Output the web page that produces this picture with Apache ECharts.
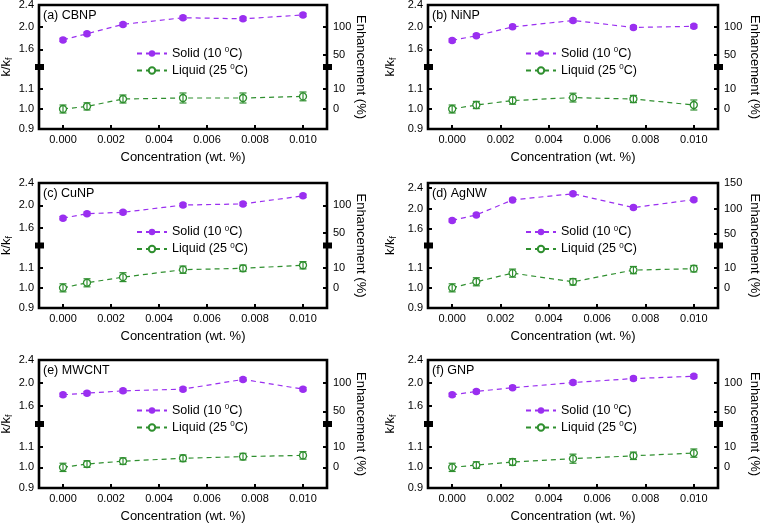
<!DOCTYPE html>
<html><head><meta charset="utf-8">
<script src="https://cdn.jsdelivr.net/npm/echarts@6/dist/echarts.min.js"></script>
<style>html,body{margin:0;padding:0;background:#fff}#c{width:760px;height:526px}</style>
</head><body><div id="c"></div>
<script>
// ---------- data ----------
const concentrations = [0, 0.001, 0.0025, 0.005, 0.0075, 0.010];
const xTicks = [0, 0.002, 0.004, 0.006, 0.008, 0.010];
const panelLabels = ['(a) CBNP', '(b) NiNP', '(c) CuNP', '(d) AgNW', '(e) MWCNT', '(f) GNP'];
const upperTicks = [1.6, 2.0, 2.4];
const lowerTicks = [0.9, 1.0, 1.1];
const enhUpperTicks = [50, 100];
const enhUpperTicksD = [50, 100, 150];
const enhLowerTicks = [-10, 0, 10];

const solidCBNP  = [1.77, 1.88, 2.05, 2.17, 2.15, 2.22];
const liquidCBNP = [1.000, 1.013, 1.050, 1.055, 1.055, 1.063];
const errCBNP    = [0.020, 0.018, 0.020, 0.025, 0.025, 0.022];

const solidNiNP  = [1.76, 1.845, 2.005, 2.12, 1.995, 2.015];
const liquidNiNP = [1.000, 1.020, 1.042, 1.057, 1.050, 1.020];
const errNiNP    = [0.020, 0.018, 0.018, 0.022, 0.018, 0.025];

const solidCuNP  = [1.77, 1.85, 1.875, 2.005, 2.025, 2.17];
const liquidCuNP = [1.000, 1.025, 1.053, 1.090, 1.097, 1.112];
const errCuNP    = [0.020, 0.020, 0.022, 0.018, 0.016, 0.018];

const solidAgNW  = [1.77, 1.877, 2.17, 2.29, 2.02, 2.175];
const liquidAgNW = [1.000, 1.030, 1.073, 1.030, 1.088, 1.095];
const errAgNW    = [0.020, 0.020, 0.020, 0.016, 0.018, 0.016];

const solidMWCNT  = [1.79, 1.82, 1.86, 1.89, 2.06, 1.89];
const liquidMWCNT = [1.000, 1.016, 1.030, 1.044, 1.052, 1.058];
const errMWCNT    = [0.020, 0.016, 0.016, 0.016, 0.016, 0.018];

const solidGNP  = [1.79, 1.85, 1.915, 2.005, 2.075, 2.115];
const liquidGNP = [1.000, 1.011, 1.026, 1.042, 1.056, 1.069];
const errGNP    = [0.020, 0.016, 0.016, 0.022, 0.018, 0.020];

const solidErr = [0.03, 0.03, 0.03, 0.03, 0.03, 0.03];

// ---------- layout / style ----------
const PURPLE = '#9a2ff0';
const GREEN = '#2f8f2f';
const FONT = 'Liberation Sans, Arial, sans-serif';
const colLeft = [39, 428], colRight = [327, 718];
const rowTop = [5, 183, 360], rowBottom = [129, 308, 488];
const kNameGap = [25, 30], eNameGap = [27, 30];

const panels = [
  {label: panelLabels[0], solid: solidCBNP,  liquid: liquidCBNP,  err: errCBNP,  upperMax: 2.4, enh: enhUpperTicks},
  {label: panelLabels[1], solid: solidNiNP,  liquid: liquidNiNP,  err: errNiNP,  upperMax: 2.4, enh: enhUpperTicks},
  {label: panelLabels[2], solid: solidCuNP,  liquid: liquidCuNP,  err: errCuNP,  upperMax: 2.4, enh: enhUpperTicks},
  {label: panelLabels[3], solid: solidAgNW,  liquid: liquidAgNW,  err: errAgNW,  upperMax: 2.5, enh: enhUpperTicksD},
  {label: panelLabels[4], solid: solidMWCNT, liquid: liquidMWCNT, err: errMWCNT, upperMax: 2.4, enh: enhUpperTicks},
  {label: panelLabels[5], solid: solidGNP,   liquid: liquidGNP,   err: errGNP,   upperMax: 2.4, enh: enhUpperTicks}
];
const UPPER_MIN = 1.28, LOWER_MIN = 0.9, LOWER_MAX = 1.21;

function errRenderer(color, cap) {
  return function (params, api) {
    const x = api.value(0), lo = api.value(1), hi = api.value(2);
    const p1 = api.coord([x, hi]), p2 = api.coord([x, lo]);
    const st = {stroke: color, lineWidth: 1.2};
    return {type: 'group', children: [
      {type: 'line', shape: {x1: p1[0], y1: p1[1], x2: p2[0], y2: p2[1]}, style: st},
      {type: 'line', shape: {x1: p1[0] - cap, y1: p1[1], x2: p1[0] + cap, y2: p1[1]}, style: st},
      {type: 'line', shape: {x1: p2[0] - cap, y1: p2[1], x2: p2[0] + cap, y2: p2[1]}, style: st}
    ]};
  };
}

const grid = [], xAxis = [], yAxis = [], series = [], title = [], legend = [], graphic = [];
const tickStyle = {color: '#000', width: 2};
const labelStyle = {fontSize: 11, color: '#000', fontFamily: FONT};
const noLine = {show: false, onZero: false};

panels.forEach((p, i) => {
  const col = i % 2, row = Math.floor(i / 2);
  const L = colLeft[col], R = colRight[col], T = rowTop[row], B = rowBottom[row];
  const W = R - L, H = B - T, hu = H / 2, brk = T + hu;
  const g0 = grid.length, x0 = xAxis.length, y0 = yAxis.length;
  grid.push({left: L, top: T, width: W, height: H, show: true, borderColor: '#000', borderWidth: 2.6, backgroundColor: 'transparent', outerBoundsMode: 'none'});
  grid.push({left: L, top: T, width: W, height: hu, outerBoundsMode: 'none'});
  grid.push({left: L, top: brk, width: W, height: H - hu, outerBoundsMode: 'none'});

  xAxis.push({gridIndex: g0, type: 'value', show: false, min: -0.001, max: 0.011, axisLine: noLine});
  xAxis.push({gridIndex: g0 + 1, type: 'value', show: false, min: -0.001, max: 0.011, axisLine: noLine});
  xAxis.push({gridIndex: g0 + 2, type: 'value', position: 'bottom', min: -0.001, max: 0.011,
    name: 'Concentration (wt. %)', nameLocation: 'middle', nameGap: 22,
    nameTextStyle: {fontSize: 13, color: '#000', fontFamily: FONT},
    axisLine: noLine, splitLine: {show: false},
    axisTick: {show: true, inside: true, length: 4, lineStyle: tickStyle, customValues: xTicks},
    axisLabel: {customValues: xTicks, formatter: v => v.toFixed(3), margin: 5, ...labelStyle}});

  const blank = {axisLine: noLine, axisTick: {show: false}, axisLabel: {show: false}, splitLine: {show: false}};
  // frame axes carrying names
  yAxis.push({gridIndex: g0, type: 'value', position: 'left', min: 0, max: 1, ...blank,
    name: '{a|k/k}{s|f}', nameLocation: 'middle', nameRotate: 90, nameGap: kNameGap[col],
    nameTextStyle: {color: '#000', fontFamily: FONT, rich: {a: {fontSize: 13, color: '#000', fontFamily: FONT}, s: {fontSize: 9, color: '#000', fontFamily: FONT, padding: [6, 0, 0, 0]}}}});
  yAxis.push({gridIndex: g0, type: 'value', position: 'right', min: 0, max: 1, ...blank,
    name: 'Enhancement (%)', nameLocation: 'middle', nameRotate: -90, nameGap: eNameGap[col],
    nameTextStyle: {fontSize: 13, color: '#000', fontFamily: FONT}});
  // upper section
  yAxis.push({gridIndex: g0 + 1, type: 'value', position: 'left', min: UPPER_MIN, max: p.upperMax,
    axisLine: noLine, splitLine: {show: false},
    axisTick: {show: true, inside: true, length: 4, lineStyle: tickStyle, customValues: upperTicks},
    axisLabel: {customValues: upperTicks, formatter: v => v.toFixed(1), margin: 5, ...labelStyle}});
  yAxis.push({gridIndex: g0 + 1, type: 'value', position: 'right', min: (UPPER_MIN - 1) * 100, max: (p.upperMax - 1) * 100,
    axisLine: noLine, splitLine: {show: false},
    axisTick: {show: true, inside: true, length: 4, lineStyle: tickStyle, customValues: p.enh},
    axisLabel: {customValues: p.enh, formatter: v => String(Math.round(v)), margin: 6, ...labelStyle}});
  // lower section
  yAxis.push({gridIndex: g0 + 2, type: 'value', position: 'left', min: LOWER_MIN, max: LOWER_MAX,
    axisLine: noLine, splitLine: {show: false},
    axisTick: {show: true, inside: true, length: 4, lineStyle: tickStyle, customValues: lowerTicks},
    axisLabel: {customValues: lowerTicks, formatter: v => v.toFixed(1), margin: 5, ...labelStyle}});
  yAxis.push({gridIndex: g0 + 2, type: 'value', position: 'right', min: (LOWER_MIN - 1) * 100, max: (LOWER_MAX - 1) * 100,
    axisLine: noLine, splitLine: {show: false},
    axisTick: {show: true, inside: true, length: 4, lineStyle: tickStyle, customValues: enhLowerTicks},
    axisLabel: {customValues: enhLowerTicks, formatter: v => String(Math.round(v)), margin: 6, ...labelStyle}});

  // series
  series.push({type: 'line', name: 'Solid', xAxisIndex: x0 + 1, yAxisIndex: y0 + 2, z: 3,
    data: concentrations.map((c, k) => [c, p.solid[k]]),
    symbol: 'circle', symbolSize: 7.5, itemStyle: {color: PURPLE},
    lineStyle: {color: PURPLE, width: 1.2, type: [5, 4]}});
  series.push({type: 'custom', name: 'SolidErr', xAxisIndex: x0 + 1, yAxisIndex: y0 + 2, silent: true, z: 4,
    data: concentrations.map((c, k) => [c, p.solid[k] - solidErr[k], p.solid[k] + solidErr[k]]),
    encode: {x: 0, y: [1, 2]}, renderItem: errRenderer(PURPLE, 3.5)});
  series.push({type: 'line', name: 'Liquid', xAxisIndex: x0 + 2, yAxisIndex: y0 + 4, z: 3,
    data: concentrations.map((c, k) => [c, p.liquid[k]]),
    symbol: 'circle', symbolSize: 7, itemStyle: {color: '#fff', borderColor: GREEN, borderWidth: 1.3},
    lineStyle: {color: GREEN, width: 1.2, type: [5, 4]}});
  series.push({type: 'custom', name: 'LiquidErr', xAxisIndex: x0 + 2, yAxisIndex: y0 + 4, silent: true, z: 4,
    data: concentrations.map((c, k) => [c, p.liquid[k] - p.err[k], p.liquid[k] + p.err[k]]),
    encode: {x: 0, y: [1, 2]}, renderItem: errRenderer(GREEN, 3.5)});

  title.push({text: p.label, left: L + 4, top: T + 4, padding: 0,
    textStyle: {fontSize: 12.5, fontWeight: 'normal', color: '#000', fontFamily: FONT}});

  legend.push({orient: 'vertical', left: L + 97, top: brk - 21, padding: 0, itemGap: 3,
    itemWidth: 30, itemHeight: 8, data: ['Solid', 'Liquid'], selectedMode: false,
    formatter: n => n === 'Solid' ? '{t|Solid (10 }{s|0}{t|C)}' : '{t|Liquid (25 }{s|0}{t|C)}',
    textStyle: {color: '#000', fontFamily: FONT, rich: {
      t: {fontSize: 12.5, color: '#000', fontFamily: FONT},
      s: {fontSize: 8, color: '#000', fontFamily: FONT, padding: [0, 0, 7, 0]}}}});

  // axis-break marks
  graphic.push({type: 'rect', shape: {x: L - 4, y: brk - 3, width: 9, height: 6}, style: {fill: '#000'}, z: 10});
  graphic.push({type: 'rect', shape: {x: R - 4, y: brk - 3, width: 9, height: 6}, style: {fill: '#000'}, z: 10});
});

const chart = echarts.init(document.getElementById('c'), null, {renderer: 'canvas'});
chart.setOption({
  backgroundColor: '#fff',
  animation: false,
  textStyle: {fontFamily: FONT},
  title, legend, grid, xAxis, yAxis, series, graphic
});
</script></body></html>
